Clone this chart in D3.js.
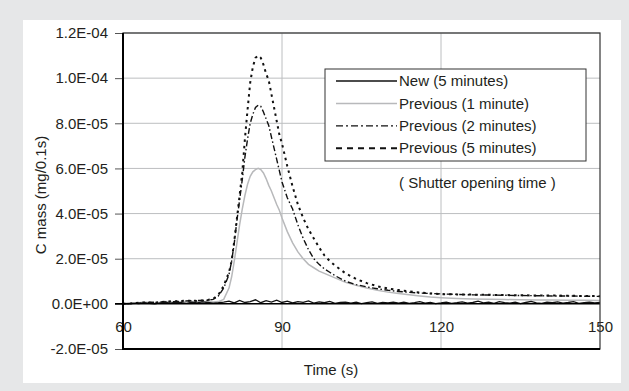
<!DOCTYPE html>
<html>
<head>
<meta charset="utf-8">
<script src="https://cdn.jsdelivr.net/npm/d3@7"></script>
<style>
  body { margin: 0; background: #e6e7e8; }
  text { font-family: 'Liberation Sans', Arial, sans-serif; fill: #231f20; }
</style>
</head>
<body>
<div id="chart"></div>
<script>
// values in units of 1E-05 mg/0.1s
const unit = 1e-5

const times = [60, 62, 64, 66, 68, 70, 72, 74, 76, 77, 78, 79, 80,
  80.5, 81, 81.5, 82, 82.5, 83, 83.5, 84, 84.5, 85, 85.5, 86, 86.5, 87, 87.5, 88, 88.5, 89, 89.5, 90,
  91, 92, 93, 94, 95, 96, 97, 98, 99, 100,
  102, 104, 106, 108, 110, 112, 114, 116, 118, 120,
  123, 126, 129, 132, 135, 138, 141, 144, 147, 150]

const prev5 = [0.00, 0.03, 0.06, 0.05, 0.10, 0.12, 0.14, 0.13, 0.17, 0.22, 0.40, 0.80, 1.40,
  1.90, 2.80, 3.80, 4.80, 5.80, 7.30, 8.60, 9.80, 10.50, 10.90, 11.00, 10.90, 10.60, 10.20, 9.90, 9.30, 8.70, 8.10, 7.50, 7.10,
  6.10, 5.20, 4.40, 3.80, 3.30, 2.90, 2.50, 2.15, 1.90, 1.70,
  1.35, 1.10, 0.92, 0.78, 0.68, 0.61, 0.55, 0.50, 0.46, 0.43,
  0.42, 0.41, 0.40, 0.39, 0.38, 0.37, 0.37, 0.36, 0.35, 0.34]

const prev2 = [0.01, 0.02, 0.05, 0.07, 0.09, 0.10, 0.13, 0.15, 0.16, 0.20, 0.35, 0.70, 1.30,
  1.90, 2.70, 3.70, 4.60, 5.50, 6.50, 7.30, 8.00, 8.40, 8.70, 8.80, 8.75, 8.50, 8.20, 7.90, 7.40, 6.90, 6.40, 5.90, 5.40,
  4.70, 4.20, 3.50, 2.90, 2.40, 2.00, 1.75, 1.55, 1.40, 1.25,
  1.00, 0.85, 0.75, 0.67, 0.60, 0.55, 0.51, 0.48, 0.46, 0.44,
  0.42, 0.40, 0.39, 0.38, 0.37, 0.36, 0.35, 0.35, 0.34, 0.33]

const prev1 = [0.00, 0.02, 0.08, 0.04, 0.10, 0.06, 0.11, 0.09, 0.10, 0.08, 0.10, 0.20, 0.70,
  1.20, 1.90, 2.70, 3.50, 4.20, 4.80, 5.30, 5.65, 5.85, 5.95, 6.00, 5.95, 5.80, 5.55, 5.25, 5.00, 4.70, 4.40, 4.15, 3.80,
  3.20, 2.70, 2.30, 2.00, 1.75, 1.60, 1.45, 1.35, 1.25, 1.15,
  0.95, 0.82, 0.70, 0.60, 0.52, 0.46, 0.40, 0.35, 0.30, 0.27,
  0.24, 0.22, 0.20, 0.19, 0.18, 0.17, 0.17, 0.16, 0.16, 0.15]

// new shutter, one reading per second from 60 s to 150 s
const newTimes = d3.range(60, 151, 1)
const new5 = [0.02, 0.00, 0.03, 0.01, 0.05, 0.02, 0.00, 0.04, 0.06, 0.03,
  0.08, 0.05, 0.02, 0.07, 0.04, 0.09, 0.06, 0.03, 0.05, 0.08,
  0.12, 0.04, 0.15, 0.06, 0.10, 0.18, 0.05, 0.14, 0.08, 0.16,
  0.06, 0.12, 0.04, 0.10, 0.07, 0.13, 0.03, 0.09, 0.05, 0.11,
  0.02, 0.06, 0.08, 0.03, 0.07, 0.01, 0.05, 0.09, 0.02, 0.06,
  0.04, 0.08, 0.03, 0.07, 0.02, 0.05, 0.10, 0.03, 0.06, 0.01,
  0.04, 0.08, 0.02, 0.05, 0.09, 0.03, 0.06, 0.12, 0.04, 0.07,
  0.02, 0.10, 0.05, 0.03, 0.08, 0.01, 0.06, 0.11, 0.04, 0.02,
  0.07, 0.05, 0.09, 0.03, 0.06, 0.10, 0.02, 0.05, 0.08, 0.04,
  0.06]

const xTicks = [60, 90, 120, 150]
const yTicks = [-2e-5, 0, 2e-5, 4e-5, 6e-5, 8e-5, 1e-4, 1.2e-4]

const series = [
  { name: 'Previous (1 minute)', t: times, v: prev1, color: '#b8b9bb', width: 1.5, dash: null, legendDash: null },
  { name: 'Previous (2 minutes)', t: times, v: prev2, color: '#111', width: 1.4, dash: '6,2.5,1.5,2.5', legendDash: '7,3,2,3' },
  { name: 'Previous (5 minutes)', t: times, v: prev5, color: '#111', width: 2, dash: '2.5,4', legendDash: '6,5' },
  { name: 'New (5 minutes)', t: newTimes, v: new5, color: '#111', width: 1.3, dash: null, legendDash: null }
]
const legendOrder = ['New (5 minutes)', 'Previous (1 minute)', 'Previous (2 minutes)', 'Previous (5 minutes)']

const width = 629
const height = 391
const margin = { top: 33, right: 29, bottom: 42, left: 123 }
const boundedWidth = width - margin.left - margin.right
const boundedHeight = height - margin.top - margin.bottom

const svg = d3.select('#chart')
  .append('svg')
  .attr('width', width)
  .attr('height', height)

svg.append('rect').attr('width', width).attr('height', height).attr('fill', '#e6e7e8')
svg.append('rect').attr('x', 23).attr('y', 20).attr('width', 598).attr('height', 363).attr('fill', '#fff')

const bounds = svg.append('g')
  .attr('transform', `translate(${margin.left},${margin.top})`)

const xScale = d3.scaleLinear().domain([60, 150]).range([0, boundedWidth])
const yScale = d3.scaleLinear().domain([-2e-5, 1.2e-4]).range([boundedHeight, 0])

const sciFormat = (d) => {
  const [m, e] = d.toExponential(1).split('e')
  const sign = e[0] === '-' ? '-' : '+'
  const digits = e.replace(/[+-]/, '').padStart(2, '0')
  return `${m}E${sign}${digits}`
}

// grid
bounds.append('g')
  .selectAll('line')
  .data(yTicks.filter((d) => d !== 0))
  .join('line')
  .attr('x1', 0).attr('x2', boundedWidth)
  .attr('y1', (d) => yScale(d)).attr('y2', (d) => yScale(d))
  .attr('stroke', '#bcbec0')
  .attr('stroke-width', 1)

bounds.append('g')
  .selectAll('line')
  .data(xTicks.slice(1, -1))
  .join('line')
  .attr('x1', (d) => xScale(d)).attr('x2', (d) => xScale(d))
  .attr('y1', 0).attr('y2', boundedHeight)
  .attr('stroke', '#bcbec0')
  .attr('stroke-width', 1)

// y axis
const yAxis = bounds.append('g')
  .call(d3.axisLeft(yScale).tickValues(yTicks).tickSize(8).tickPadding(7).tickFormat(sciFormat))
yAxis.select('.domain').remove()
yAxis.selectAll('line').attr('stroke', '#555')
yAxis.selectAll('text').style('font-size', '15px').attr('fill', '#231f20')

// data lines
bounds.append('clipPath').attr('id', 'clip')
  .append('rect').attr('width', boundedWidth).attr('height', boundedHeight)

const lineGenerator = d3.line()
  .x((d) => xScale(d[0]))
  .y((d) => yScale(d[1] * unit))

const lines = bounds.append('g').attr('clip-path', 'url(#clip)')
series.forEach((s) => {
  lines.append('path')
    .attr('d', lineGenerator(s.t.map((t, i) => [t, s.v[i]])))
    .attr('fill', 'none')
    .attr('stroke', s.color)
    .attr('stroke-width', s.width)
    .attr('stroke-dasharray', s.dash)
})

// x axis at zero
const xAxis = bounds.append('g')
  .attr('transform', `translate(0,${yScale(0)})`)
  .call(d3.axisBottom(xScale).tickValues(xTicks).tickSize(0).tickPadding(18))
xAxis.select('.domain').remove()
xAxis.selectAll('text').style('font-size', '15px').attr('fill', '#231f20')
bounds.append('line')
  .attr('x1', -8).attr('x2', boundedWidth)
  .attr('y1', yScale(0)).attr('y2', yScale(0))
  .attr('stroke', '#000')
  .attr('stroke-width', 1.5)

// frame
bounds.append('rect')
  .attr('width', boundedWidth).attr('height', boundedHeight)
  .attr('fill', 'none').attr('stroke', '#333').attr('stroke-width', 1.2)
bounds.append('path')
  .attr('d', `M0,0V${boundedHeight}H${boundedWidth}`)
  .attr('fill', 'none').attr('stroke', '#000').attr('stroke-width', 2)

// axis titles
svg.append('text')
  .attr('transform', 'translate(46,195) rotate(-90)')
  .attr('text-anchor', 'middle')
  .style('font-size', '15px')
  .text('C mass (mg/0.1s)')

svg.append('text')
  .attr('x', 331).attr('y', 375)
  .attr('text-anchor', 'middle')
  .style('font-size', '15px')
  .text('Time (s)')

// legend
const legend = svg.append('g')
legend.append('rect')
  .attr('x', 325).attr('y', 69).attr('width', 261).attr('height', 92)
  .attr('fill', '#fff').attr('stroke', '#333').attr('stroke-width', 1)

legendOrder.forEach((name, i) => {
  const s = series.find((d) => d.name === name)
  const y = 81 + i * 22.4
  legend.append('line')
    .attr('x1', 336).attr('x2', 397).attr('y1', y).attr('y2', y)
    .attr('stroke', s.color)
    .attr('stroke-width', s.name === 'Previous (5 minutes)' ? 2 : (s.name === 'Previous (1 minute)' ? 1.5 : 1.3))
    .attr('stroke-dasharray', s.legendDash)
  legend.append('text')
    .attr('x', 399).attr('y', y)
    .attr('dy', '0.35em')
    .style('font-size', '15px')
    .text(name)
})

svg.append('text')
  .attr('x', 399).attr('y', 183)
  .attr('dy', '0.35em')
  .style('font-size', '15px')
  .text('( Shutter opening time )')
</script>
</body>
</html>
